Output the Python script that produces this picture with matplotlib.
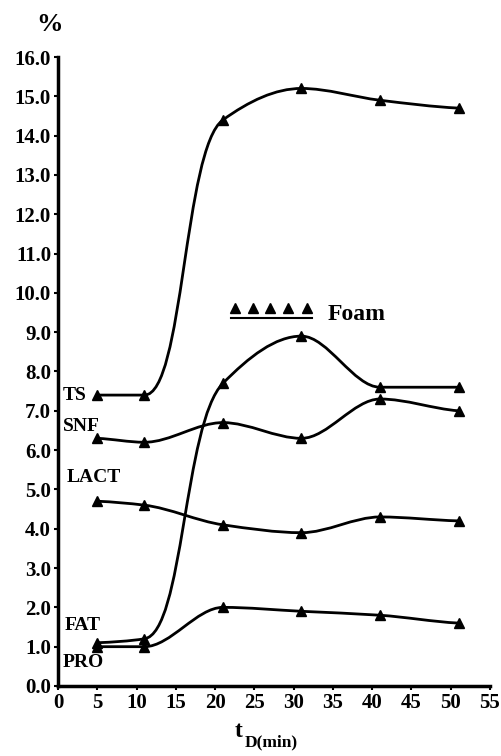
import numpy as np
import matplotlib
matplotlib.use("Agg")
import matplotlib.pyplot as plt
from matplotlib.path import Path
from matplotlib.patches import PathPatch

# sampling times (min)
t = [5, 11, 21, 31, 41, 51]

# composition (%)
ts = [7.4, 7.4, 14.4, 15.2, 14.9, 14.7]
fat = [1.1, 1.2, 7.7, 8.9, 7.6, 7.6]
snf = [6.3, 6.2, 6.7, 6.3, 7.3, 7.0]
lact = [4.7, 4.6, 4.1, 3.9, 4.3, 4.2]
pro = [1.0, 1.0, 2.0, 1.9, 1.8, 1.6]

# foam markers
foam_t = [22.5, 24.8, 27.0, 29.3, 31.7]
foam_y = 9.62

xticks = list(range(0, 60, 5))
yticks = np.arange(0, 17, 1.0)

plt.rcParams['font.family'] = ['Liberation Serif', 'DejaVu Serif']
plt.rcParams['font.weight'] = 'bold'


def pchip_slopes(x, y):
    # monotone-ish tangents so the curve looks like the hand drawn one
    x = np.asarray(x, float)
    y = np.asarray(y, float)
    h = np.diff(x)
    d = np.diff(y) / h
    m = np.zeros_like(y)
    for i in range(1, len(y) - 1):
        if d[i-1] * d[i] <= 0:
            m[i] = 0
        else:
            w1 = 2*h[i] + h[i-1]
            w2 = h[i] + 2*h[i-1]
            m[i] = (w1 + w2) / (w1/d[i-1] + w2/d[i])
    m[0] = d[0] * 0.5
    m[-1] = d[-1] * 0.5
    return m


def smooth_path(x, y):
    # bezier through the points; longer handles on the steep jumps
    m = pchip_slopes(x, y)
    verts = [(x[0], y[0])]
    codes = [Path.MOVETO]
    for i in range(len(x) - 1):
        h = x[i+1] - x[i]
        a = 0.5 if abs(y[i+1] - y[i]) / h > 0.4 else 1/3
        verts += [(x[i] + a*h, y[i] + m[i]*a*h),
                  (x[i+1] - a*h, y[i+1] - m[i+1]*a*h),
                  (x[i+1], y[i+1])]
        codes += [Path.CURVE4] * 3
    return Path(verts, codes)


fig = plt.figure(figsize=(5.01, 7.56), dpi=100)
ax = fig.add_axes([0.1158, 0.0926, 0.978 - 0.1158, 0.9246 - 0.0926])

for ser in [ts, fat, snf, lact, pro]:
    ax.add_patch(PathPatch(smooth_path(t, ser), fill=False, lw=2.0, color='black'))
    ax.plot(t, ser, linestyle='none', marker='^', ms=7, color='black')

# foam
ax.plot(foam_t, [foam_y]*len(foam_t), linestyle='none', marker='^', ms=7, color='black')
ax.plot([22.0, 32.3], [9.36, 9.36], color='black', lw=1.5)
ax.text(34.3, 9.45, 'Foam', fontsize=17, fontweight='bold', va='center', ha='left')

# series labels
ax.text(0.6, 7.4, 'TS', fontsize=14, fontweight='bold', va='center')
ax.text(0.6, 6.6, 'SNF', fontsize=14, fontweight='bold', va='center')
ax.text(1.1, 5.3, 'LACT', fontsize=14, fontweight='bold', va='center')
ax.text(0.9, 1.55, 'FAT', fontsize=14, fontweight='bold', va='center')
ax.text(0.6, 0.6, 'PRO', fontsize=14, fontweight='bold', va='center')

ax.set_xlim(0, 55)
ax.set_ylim(0, 16)
ax.set_xticks(xticks)
ax.set_yticks(yticks)
ax.set_yticklabels(['%.1f' % v for v in yticks])
ax.tick_params(labelsize=15, width=1.5, length=3, pad=2)
for lab in ax.get_xticklabels() + ax.get_yticklabels():
    lab.set_fontweight('bold')
ax.spines['top'].set_visible(False)
ax.spines['right'].set_visible(False)
ax.spines['left'].set_linewidth(2.5)
ax.spines['bottom'].set_linewidth(2.5)

fig.text(0.098, 0.968, '%', fontsize=19, fontweight='bold', ha='center', va='center')
fig.text(0.485, 0.032, 't', fontsize=17, fontweight='bold', ha='right', va='center')
fig.text(0.489, 0.018, 'D(min)', fontsize=12.5, fontweight='bold', ha='left', va='center')

fig.savefig('out.png', dpi=100)
